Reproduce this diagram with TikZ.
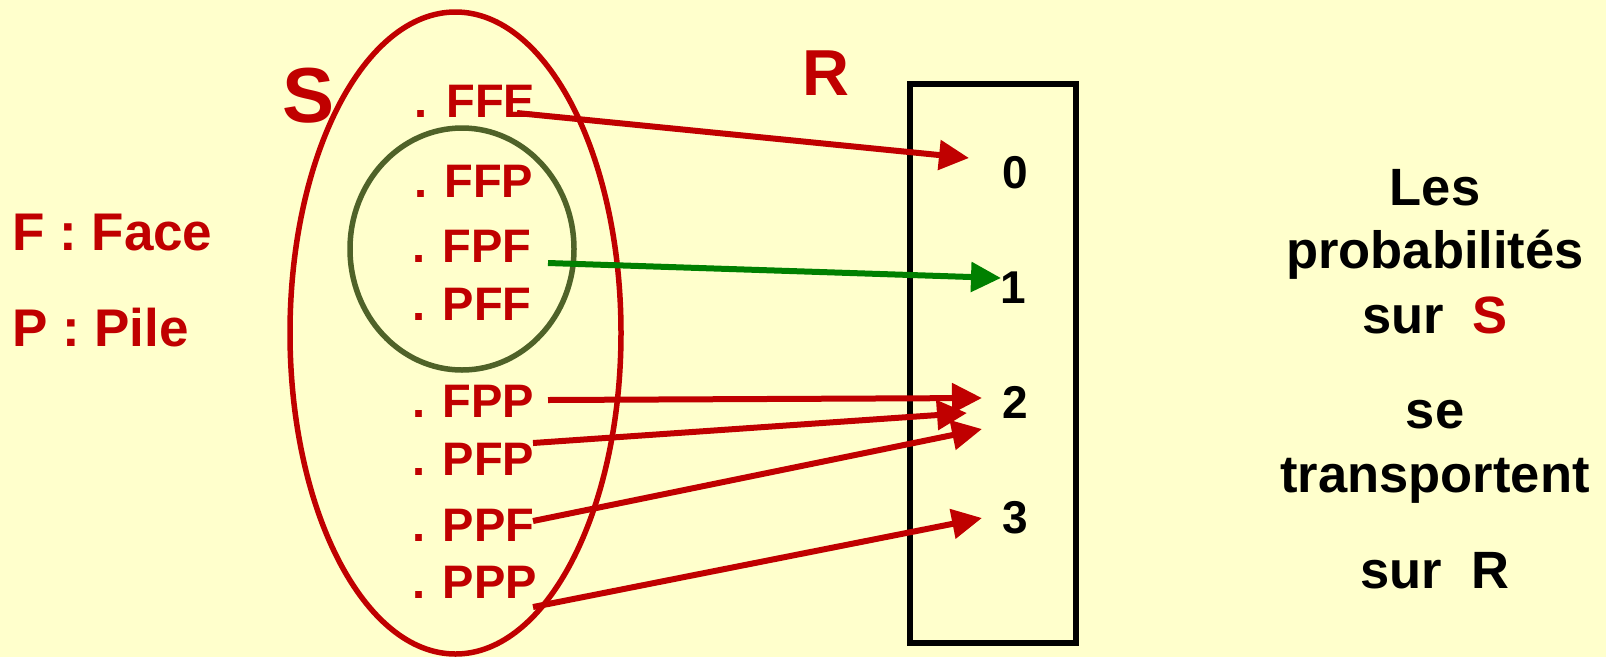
\documentclass[tikz,border=0pt]{standalone}
\usepackage{fontspec}
\setmainfont{Liberation Sans}
\usetikzlibrary{arrows.meta,shapes.geometric}
\definecolor{bg}{HTML}{FFFFCC}
\definecolor{myred}{HTML}{C00000}
\definecolor{mygreen}{HTML}{008000}
\definecolor{myolive}{HTML}{4F6228}
\tikzset{
  lbl/.style={font=\fontsize{47}{50}\selectfont\bfseries, text=myred, anchor=base west, inner sep=0pt},
  num/.style={font=\fontsize{46}{50}\selectfont\bfseries, text=black, anchor=base, inner sep=0pt},
  side/.style={font=\fontsize{52.5}{56}\selectfont\bfseries, text=black, anchor=base, inner sep=0pt},
  legend/.style={font=\fontsize{53}{56}\selectfont\bfseries, text=myred, anchor=base west, inner sep=0pt},
  arr/.style={line width=6pt, -{Triangle[length=30pt,width=29pt]}},
  setshape/.style={ellipse, draw, line width=5.5pt, inner sep=0pt}
}
\begin{document}
\begin{tikzpicture}[x=1pt,y=-1pt]
\fill[bg] (0,0) rectangle (1606,657);
\useasboundingbox (0,0) rectangle (1606,657);

% sets
\node[setshape, draw=myred, minimum width=331pt, minimum height=642pt] (Sset) at (455.5,333) {};
\node[setshape, draw=myolive, minimum width=224pt, minimum height=242pt] (Sub) at (462,249) {};
\node[draw=black, line width=6pt, inner sep=0pt, minimum width=166pt, minimum height=559pt] (Rbox) at (992.5,363.5) {};

% titles
\node[font=\fontsize{78}{80}\selectfont\bfseries, text=myred, anchor=base, inner sep=0pt] (Stitle) at (309,122) {S};
\node[font=\fontsize{65}{68}\selectfont\bfseries, text=myred, anchor=base, inner sep=0pt] (Rtitle) at (826,95) {R};

% legend
\node[legend] (lF) at (12,250) {F : Face};
\node[legend] (lP) at (12,346) {P : Pile};

% outcomes
\node[lbl] (FFE) at (414,117) {.\kern6pt\ FFE};
\node[lbl] (FFP) at (414,197) {.\kern4pt\ FFP};
\node[lbl] (FPF) at (412,262) {. FPF};
\node[lbl] (PFF) at (412,320) {. PFF};
\node[lbl] (FPP) at (412,417) {. FPP};
\node[lbl] (PFP) at (412,475) {. PFP};
\node[lbl] (PPF) at (412,541) {. PPF};
\node[lbl] (PPP) at (412,598) {. PPP};

% values
\node[num] (n0) at (1015,188) {0};
\node[num] (n1) at (1013,303) {1};
\node[num] (n2) at (1015,418) {2};
\node[num] (n3) at (1015,533) {3};

% side text
\node[side] (t1) at (1435,205) {Les};
\node[side] (t2) at (1435,268) {probabilités};
\node[side] (t3) at (1435,333) {sur\ \ \textcolor{myred}{S}};
\node[side] (t4) at (1435,428) {se};
\node[side] (t5) at (1435,492) {transportent};
\node[side] (t6) at (1435,588) {sur\ \ R};

% connector ends
\coordinate (sFFE) at (517,113);
\coordinate (sFPF) at (548,263);
\coordinate (sFPP) at (548,400);
\coordinate (sPFP) at (533,443);
\coordinate (sPPF) at (533,521);
\coordinate (sPPP) at (533,607);
\coordinate (e0) at (969,158);
\coordinate (e1) at (1001,278);
\coordinate (e2a) at (982,398);
\coordinate (e2b) at (967,413);
\coordinate (e2c) at (982,429);
\coordinate (e3) at (982,518);

\draw[arr, myred] (sFFE) -- (e0);
\draw[arr, mygreen] (sFPF) -- (e1);
\draw[arr, myred] (sFPP) -- (e2a);
\draw[arr, myred] (sPFP) -- (e2b);
\draw[arr, myred] (sPPF) -- (e2c);
\draw[arr, myred] (sPPP) -- (e3);
\end{tikzpicture}
\end{document}
